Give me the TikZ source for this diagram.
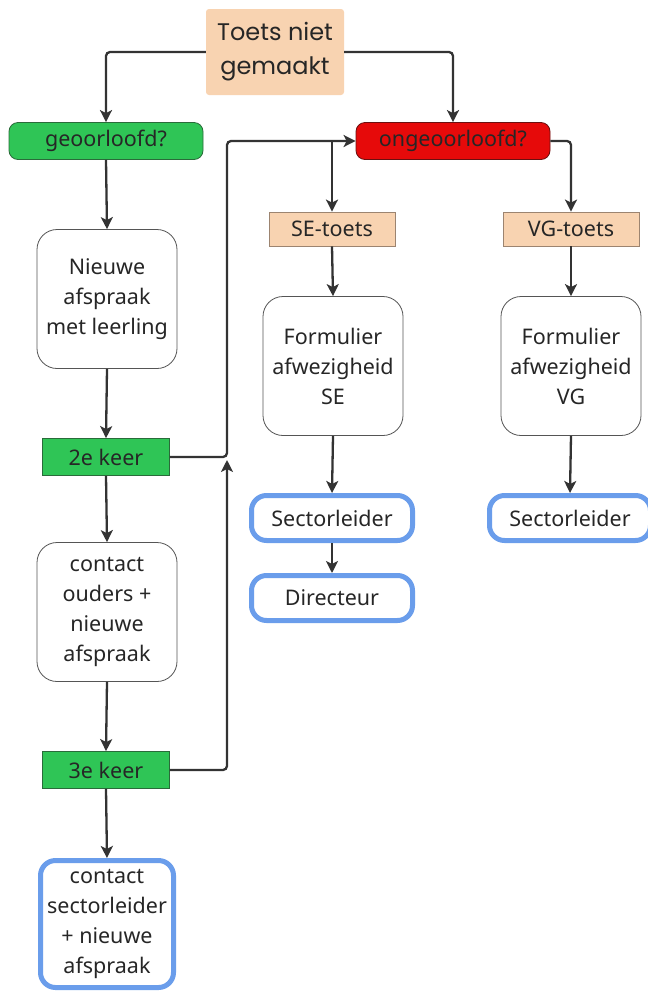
\documentclass[tikz,border=0pt]{standalone}
\usepackage{fontspec}
\setmainfont{Noto Sans}
\newfontfamily\popfont{Poppins}
\usetikzlibrary{arrows.meta,calc}
\definecolor{peach}{HTML}{F8D3B1}
\definecolor{peachdark}{HTML}{9C8470}
\definecolor{grn}{HTML}{2FC556}
\definecolor{grndark}{HTML}{2A6B3A}
\definecolor{rd}{HTML}{E60A0A}
\definecolor{rddark}{HTML}{6A1010}
\definecolor{blu}{HTML}{6A9DEB}
\definecolor{linecol}{HTML}{333333}
\definecolor{boxgray}{HTML}{555555}
\begin{document}
\begin{tikzpicture}[x=1pt,y=-1pt,
  every node/.style={inner sep=0pt, align=center, text=black!85},
  txt/.style={font=\fontsize{21.5}{30}\selectfont},
  startbox/.style={fill=peach, rounded corners=3pt, minimum width=138pt, minimum height=86pt,
    font=\popfont\fontsize{24}{34}\selectfont},
  pill/.style={txt, draw=#1dark, fill=#1, line width=0.8pt, rounded corners=9pt, minimum width=194pt, minimum height=37pt},
  tag/.style={txt, draw=grndark, fill=grn, line width=0.8pt, minimum width=127pt, minimum height=37pt},
  ptag/.style={txt, draw=peachdark, fill=peach, line width=0.8pt, minimum width=126pt, minimum height=34pt},
  proc/.style={txt, draw=boxgray, line width=0.8pt, fill=white, rounded corners=20pt, minimum width=140pt, minimum height=139pt},
  endbox/.style={txt, draw=blu, line width=5pt, fill=white, rounded corners=15pt},
  conn/.style={draw=linecol, line width=2.3pt, rounded corners=4pt, -{Stealth[length=12pt,width=12pt,inset=3pt]}}
]
\useasboundingbox (0,0) rectangle (648,994);

\node[startbox] (start) at (275,52) {Toets niet\\gemaakt};
\node[pill=grn] (geo) at (106,141) {geoorloofd?};
\node[pill=rd] (onge) at (453,141) {ongeoorloofd?};

\node[proc] (nieuw) at (107,299) {Nieuwe\\afspraak\\met leerling};
\node[tag] (k2) at (106,457) {2e keer};
\node[proc] (ouders) at (107,612) {contact\\ouders +\\nieuwe\\afspraak};
\node[tag] (k3) at (106,770) {3e keer};
\node[endbox, minimum width=133pt, minimum height=127pt] (sector) at (107,924) {contact\\sectorleider\\+ nieuwe\\afspraak};

\node[ptag] (se) at (332,229) {SE-toets};
\node[ptag, minimum width=136pt] (vg) at (571,229) {VG-toets};
\node[proc] (fse) at (333,366) {Formulier\\afwezigheid\\SE};
\node[proc] (fvg) at (571,366) {Formulier\\afwezigheid\\VG};
\node[endbox, minimum width=161pt, minimum height=45pt] (sl1) at (332,518) {Sectorleider};
\node[endbox, minimum width=161pt, minimum height=45pt] (dir) at (332,598) {Directeur};
\node[endbox, minimum width=161pt, minimum height=45pt] (sl2) at (570,518) {Sectorleider};

\coordinate (jx) at (227,0);
\coordinate (split) at (se.north |- onge.west);
\coordinate (j2) at (k2.east -| jx);
\coordinate (j3) at ($(j2)+(0,3)$);

\draw[conn] (start.west) -| (geo.north);
\draw[conn] (start.east) -| (onge.north);
\draw[conn] (onge.east) -| (vg.north);
\draw[conn] (split) -- (se.north);
\draw[conn] (geo.south) -- (nieuw.north);
\draw[conn] (nieuw.south) -- (k2.north);
\draw[conn] (k2.south) -- (ouders.north);
\draw[conn] (ouders.south) -- (k3.north);
\draw[conn] (k3.south) -- (sector.north);
\draw[conn] (k2.east) -- (j2) |- (onge.west);
\draw[conn] (k3.east) -| (j3);
\draw[conn] (se.south) -- (fse.north);
\draw[conn] (fse.south) -- (sl1.north);
\draw[conn] (sl1.south) -- (dir.north);
\draw[conn] (vg.south) -- (fvg.north);
\draw[conn] (fvg.south) -- (sl2.north);
\end{tikzpicture}
\end{document}
